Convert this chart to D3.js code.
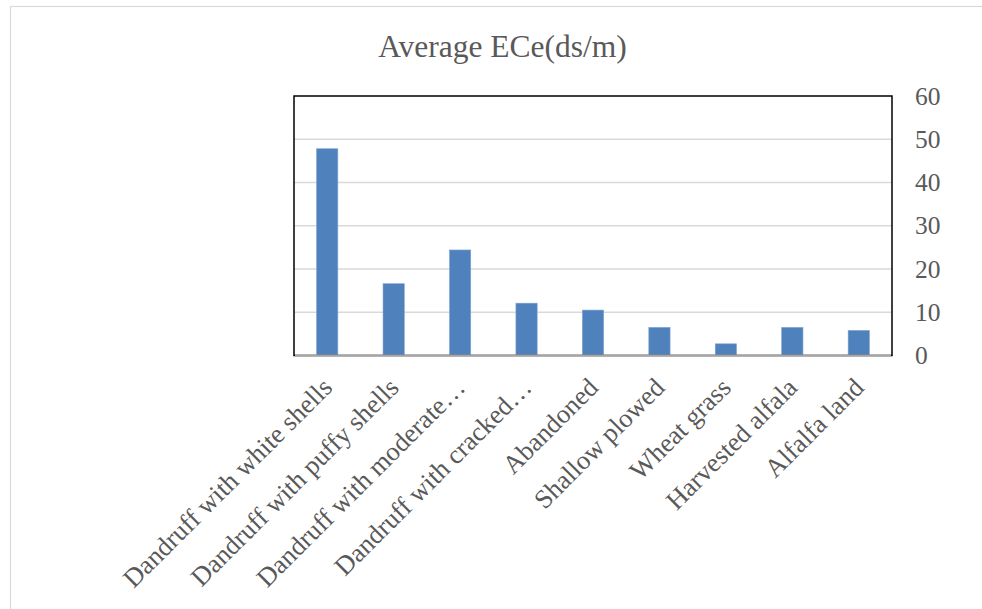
<!DOCTYPE html>
<html>
<head>
<meta charset="utf-8">
<script src="https://cdn.jsdelivr.net/npm/d3@7"></script>
<style>
  html, body { margin: 0; padding: 0; background: #fff; }
  svg { display: block; }
</style>
</head>
<body>
<svg id="chart" width="982" height="609"></svg>
<script>
const categories = [
  "Dandruff with white shells",
  "Dandruff with puffy shells",
  "Dandruff with moderate…",
  "Dandruff with cracked…",
  "Abandoned",
  "Shallow plowed",
  "Wheat grass",
  "Harvested alfala",
  "Alfalfa land"
];
const values = [47.8, 16.6, 24.4, 12.1, 10.5, 6.5, 2.7, 6.5, 5.8];
const yTicks = [0, 10, 20, 30, 40, 50, 60];
const title = "Average ECe(ds/m)";

const svg = d3.select("#chart");
const W = 982, H = 609;
const plot = { left: 294, right: 892, top: 96, bottom: 355.5 };
const serif = "'Liberation Serif', 'Times New Roman', serif";
const textColor = "#595959";

// outer chart border
svg.append("rect")
  .attr("x", 10.5).attr("y", 6.5)
  .attr("width", W + 20).attr("height", H + 20)
  .attr("fill", "#fff").attr("stroke", "#d9d9d9").attr("stroke-width", 1.2);

// title
svg.append("text")
  .attr("x", 502.5).attr("y", 57)
  .attr("text-anchor", "middle")
  .attr("font-family", serif).attr("font-size", 31.5)
  .attr("fill", textColor)
  .text(title);

const x = d3.scaleBand().domain(categories).range([plot.left, plot.right]).paddingInner(0.68).paddingOuter(0.34);
const y = d3.scaleLinear().domain([0, 60]).range([plot.bottom, plot.top]);

// gridlines
svg.append("g").selectAll("line").data(yTicks.filter(t => t > 0 && t < 60)).join("line")
  .attr("x1", plot.left).attr("x2", plot.right)
  .attr("y1", d => y(d)).attr("y2", d => y(d))
  .attr("stroke", "#d9d9d9").attr("stroke-width", 1.3);

// bars
svg.append("g").selectAll("rect").data(values).join("rect")
  .attr("x", (d, i) => x(categories[i]))
  .attr("y", d => y(d))
  .attr("width", x.bandwidth())
  .attr("height", d => y(0) - y(d))
  .attr("fill", "#4f81bd")
  .attr("stroke", "#7fa3d1").attr("stroke-width", 0.6);

// plot area border
svg.append("rect")
  .attr("x", plot.left).attr("y", plot.top)
  .attr("width", plot.right - plot.left).attr("height", plot.bottom - plot.top)
  .attr("fill", "none").attr("stroke", "#000").attr("stroke-width", 1.5);

// category axis line (gray)
svg.append("line")
  .attr("x1", plot.left + 1).attr("x2", plot.right - 1)
  .attr("y1", plot.bottom).attr("y2", plot.bottom)
  .attr("stroke", "#a6a6a6").attr("stroke-width", 2);

// right value axis labels
const yAxis = d3.axisRight(y).tickValues(yTicks).tickSize(0).tickPadding(23);
const gy = svg.append("g").attr("transform", `translate(${plot.right},0)`).call(yAxis);
gy.select(".domain").remove();
gy.selectAll("text")
  .attr("font-family", serif).attr("font-size", 25.5)
  .attr("fill", textColor);

// category labels
const xAxis = d3.axisBottom(x).tickSize(0).tickPadding(0);
const gx = svg.append("g").attr("transform", `translate(0,${plot.bottom})`).call(xAxis);
gx.select(".domain").remove();
gx.selectAll(".tick text")
  .attr("font-family", serif).attr("font-size", 26.5)
  .attr("fill", textColor)
  .attr("text-anchor", "end")
  .attr("dy", null)
  .attr("y", 0)
  .attr("transform", "translate(-7,20) rotate(-45)")
  .attr("dominant-baseline", "hanging");
</script>
</body>
</html>
